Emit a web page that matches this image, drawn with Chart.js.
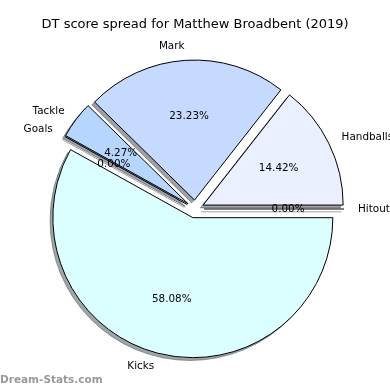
<!DOCTYPE html>
<html>
<head>
    <title>DT score spread</title>
    <script src="https://cdn.jsdelivr.net/npm/chart.js@4.4.0/dist/chart.umd.js"></script>
    <style>
        html, body { margin: 0; padding: 0; background: #fff; }
        canvas { display: block; }
    </style>
</head>
<body>
    <canvas id="chart" width="390" height="390"></canvas>

    <script>
        // data, in matplotlib order (counter-clockwise from 3 o'clock)
        const categories = ['Hitouts', 'Handballs', 'Mark', 'Tackle', 'Goals', 'Kicks'];
        const shares = [0, 14.42, 23.23, 4.27, 0, 58.08];
        const sliceColors = ['#d6e4ff', '#eaf0ff', '#c6d9ff', '#b7d6ff', '#c0d8ff', '#dbffff'];
        const chartTitle = 'DT score spread for Matthew Broadbent (2019)';

        // pie styling, as fractions of the radius
        const EXPLODE = 0.064;
        const SHADOW = 0.02;
        const LABEL_DIST = 1.1;
        const PCT_DIST = 0.6;
        const labelFont = '10.4px "DejaVu Sans"';

        // Chart.js draws clockwise, so reverse the order
        const labelsCW = categories.slice().reverse();
        const valuesCW = shares.slice().reverse();
        const colorsCW = sliceColors.slice().reverse();
        const total = valuesCW.reduce((a, b) => a + b, 0);

        function shade(hex) {
            const n = parseInt(hex.slice(1), 16);
            const r = Math.round(((n >> 16) & 255) * 0.3);
            const g = Math.round(((n >> 8) & 255) * 0.3);
            const b = Math.round((n & 255) * 0.3);
            return `rgba(${r},${g},${b},0.5)`;
        }

        function geom(arc) {
            const p = arc.getProps(['x', 'y', 'startAngle', 'endAngle', 'outerRadius']);
            const mid = (p.startAngle + p.endAngle) / 2;
            const R = p.outerRadius;
            return {
                p, mid, R,
                cx: p.x + Math.cos(mid) * EXPLODE * R,
                cy: p.y + Math.sin(mid) * EXPLODE * R
            };
        }

        const explodePlugin = {
            id: 'explode',
            beforeDatasetDraw(chart, args) {
                const ctx = chart.ctx;
                const arcs = args.meta.data;
                const order = arcs.map((a, i) => i).reverse();

                // shadows sit behind every wedge
                order.forEach(i => {
                    const g = geom(arcs[i]);
                    const s = SHADOW * g.R;
                    const col = shade(colorsCW[i]);
                    ctx.save();
                    ctx.translate(g.cx - g.p.x - s, g.cy - g.p.y + s);
                    ctx.fillStyle = col;
                    ctx.strokeStyle = col;
                    ctx.lineWidth = 1;
                    ctx.beginPath();
                    ctx.moveTo(g.p.x, g.p.y);
                    if (g.p.endAngle > g.p.startAngle) {
                        ctx.arc(g.p.x, g.p.y, g.R, g.p.startAngle, g.p.endAngle);
                        ctx.closePath();
                        ctx.fill();
                    } else {
                        ctx.lineTo(g.p.x + Math.cos(g.mid) * g.R, g.p.y + Math.sin(g.mid) * g.R);
                    }
                    ctx.stroke();
                    ctx.restore();
                });

                // wedges, pushed out from the centre
                order.forEach(i => {
                    const arc = arcs[i];
                    const g = geom(arc);
                    ctx.save();
                    ctx.translate(g.cx - g.p.x, g.cy - g.p.y);
                    if (g.p.endAngle > g.p.startAngle) {
                        arc.draw(ctx);
                    } else {
                        ctx.strokeStyle = '#000';
                        ctx.lineWidth = 1;
                        ctx.beginPath();
                        ctx.moveTo(g.p.x, g.p.y);
                        ctx.lineTo(g.p.x + Math.cos(g.mid) * g.R, g.p.y + Math.sin(g.mid) * g.R);
                        ctx.stroke();
                    }
                    ctx.restore();
                });
                return false;
            },
            afterDatasetsDraw(chart) {
                const ctx = chart.ctx;
                const arcs = chart.getDatasetMeta(0).data;
                ctx.save();
                ctx.font = labelFont;
                ctx.fillStyle = '#000';
                ctx.textBaseline = 'middle';
                arcs.forEach((arc, i) => {
                    const g = geom(arc);
                    const c = Math.cos(g.mid), s = Math.sin(g.mid);
                    ctx.textAlign = c > 1e-9 ? 'left' : 'right';
                    ctx.fillText(labelsCW[i], g.cx + c * LABEL_DIST * g.R, g.cy + s * LABEL_DIST * g.R);
                    ctx.textAlign = 'center';
                    const pct = (valuesCW[i] / total * 100).toFixed(2) + '%';
                    ctx.fillText(pct, g.cx + c * PCT_DIST * g.R, g.cy + s * PCT_DIST * g.R);
                });
                // watermark
                ctx.font = 'bold 10.5px "DejaVu Sans"';
                ctx.fillStyle = '#999';
                ctx.textAlign = 'left';
                ctx.fillText('Dream-Stats.com', 0, 380);
                ctx.restore();
            }
        };

        new Chart(document.getElementById('chart').getContext('2d'), {
            type: 'pie',
            data: {
                labels: labelsCW,
                datasets: [{
                    data: valuesCW,
                    backgroundColor: colorsCW,
                    borderColor: '#000',
                    borderWidth: 1,
                    hoverBorderWidth: 1,
                    borderJoinStyle: 'miter',
                    offset: 0,
                    hoverOffset: 0
                }]
            },
            options: {
                responsive: false,
                devicePixelRatio: 1,
                animation: false,
                events: [],
                rotation: 90,
                // wide chart area so the title is not squeezed; the pie size comes from the height
                layout: { padding: { left: 0.2, right: 0, top: 0, bottom: 40.5 } },
                plugins: {
                    legend: { display: false },
                    tooltip: { enabled: false },
                    title: {
                        display: true,
                        text: chartTitle,
                        color: '#000',
                        font: { family: 'DejaVu Sans', size: 13, weight: 'normal', lineHeight: 1.2 },
                        padding: { top: 17.2, bottom: 35.7 }
                    }
                }
            },
            plugins: [explodePlugin]
        });
    </script>
</body>
</html>
